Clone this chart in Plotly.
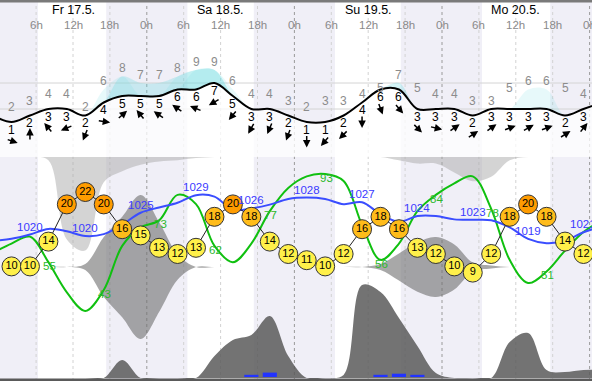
import math
import plotly.graph_objects as go

# ---------------- data ----------------
hours = [-1, 2, 5, 8, 11, 14, 17, 20, 23, 26, 29, 32, 35, 38, 41, 44, 47, 50, 53, 56,
         59, 62, 65, 68, 71, 74, 77, 80, 83, 86, 89, 92, 95, 98]

temp_hours = [2, 5, 8, 11, 14, 17, 20, 23, 26, 29, 32, 35, 38, 41, 44, 47, 50, 53, 56,
              59, 62, 65, 68, 71, 74, 77, 80, 83, 86, 89, 92, 95]
temperature_c = [10, 10, 14, 20, 22, 20, 16, 15, 13, 12, 13, 18, 20, 18, 14, 12, 11, 10, 12,
                 16, 18, 16, 13, 12, 10, 9, 12, 18, 20, 18, 14, 12]

wind_bft = [2, 1, 2, 3, 3, 2, 4, 5, 5, 5, 6, 6, 7, 5, 3, 3, 2, 1, 1, 2, 4, 6,
            6, 3, 3, 3, 2, 3, 3, 3, 3, 2, 3, 4]
gust_bft = [2, 2, 3, 4, 4, 2, 6, 8, 7, 7, 8, 9, 9, 6, 4, 4, 3, 2, 3, 3, 4, 5,
            7, 5, 4, 4, 3, 3, 5, 6, 6, 5, 4, 4]
wind_to_deg = [107, 107, 0, 320, 248, 202, 98, 49, 321, 304, 305, 292, 240, 219, 209, 203,
               200, 180, 221, 225, 180, 160, 139, 135, 103, 55, 57, 54, 70, 61, 70, 58, 38, 40]

pressure_hpa = [1019.0, 1019.4, 1020.3, 1021.5, 1021.0, 1020.0, 1020.4, 1022.4, 1024.9,
                1026.0, 1027.0, 1028.6, 1028.3, 1025.5, 1025.8, 1026.6, 1027.8, 1028.1,
                1027.8, 1026.7, 1027.1, 1024.6, 1023.0, 1024.2, 1024.2, 1023.5, 1023.4,
                1023.3, 1021.8, 1019.4, 1018.5, 1019.0, 1020.8, 1022.0]
humidity_pct = [59, 63, 66, 55, 42, 34, 43, 62, 70, 73, 84, 80, 62, 55, 63, 77, 87, 92,
                93, 90, 71, 56, 63, 77, 84, 89, 92, 78, 56, 46, 51, 60, 68, 73]

cloud_high_pct = [0, 0, 0, 3, 75, 85, 23, 13, 7, 4, 3, 1, 0, 0, 0, 0, 0, 0, 0, 0,
                  0, 0, 3, 6, 6, 14, 22, 18, 3, 0, 0, 0, 0, 0]
cloud_mid_pct = [0, 0, 0, 0, 0, 4, 40, 67, 96, 60, 17, 0, 0, 0, 0, 0, 0, 0, 0, 0,
                 0, 4, 18, 33, 40, 30, 6, 2, 0, 0, 0, 0, 0, 0]
cloud_low_pct = [0, 0, 0, 0, 0, 0, 0, 18, 0, 0, 0, 0, 22, 38, 43, 62, 22, 0, 0, 3,
                 93, 86, 60, 32, 5, 0, 0, 0, 36, 45, 8, 6, 8, 8]
precip_mm = [0, 0, 0, 0, 0, 0, 0, 0, 0, 0, 0, 0, 0, 0, 0.1, 0.2, 0, 0, 0, 0,
             0, 0.1, 0.15, 0.1, 0, 0, 0, 0, 0, 0, 0, 0, 0, 0]

pressure_label_hours = [5, 14, 23, 32, 41, 50, 59, 68, 77, 86, 95]
humidity_label_hours = [8, 17, 26, 35, 44, 53, 62, 71, 80, 89]

day_labels = ["Fr 17.5.", "Sa 18.5.", "Su 19.5.", "Mo 20.5."]
day_noon_hours = [12, 36, 60, 84]
hour_tick_hours = [0, 6, 12, 18, 24, 30, 36, 42, 48, 54, 60, 66, 72, 78, 84, 90, 96]
hour_tick_labels = ["0h", "6h", "12h", "18h", "0h", "6h", "12h", "18h", "0h", "6h",
                    "12h", "18h", "0h", "6h", "12h", "18h", "0h"]
sunrise_hours = [6.3, 30.6, 54.6, 78.5]
sunset_hours = [17.4, 41.4, 65.3, 89.6]

# ---------------- layout helpers ----------------
W, H = 592, 381
FONT = "Liberation Sans, Arial, sans-serif"


def py(px):
    return 1 - px / H


X_RANGE = [0.8 / 6.15, 592.8 / 6.15]
WIND_RANGE = [-4.3846, 15.154]

fig = go.Figure()

# ---- wind panel ----
fig.add_trace(go.Scatter(x=hours, y=[WIND_RANGE[0]] * len(hours), yaxis="y2", mode="lines",
                         line=dict(width=0), hoverinfo="skip", showlegend=False))
fig.add_trace(go.Scatter(x=hours, y=wind_bft, yaxis="y2", mode="lines", fill="tonexty",
                         fillcolor="rgba(255,255,255,0.75)", line=dict(width=0, shape="spline"),
                         hoverinfo="skip", showlegend=False))
for k in [6, 7, 8, 9]:
    top = [g if g >= k else w for w, g in zip(wind_bft, gust_bft)]
    fig.add_trace(go.Scatter(x=hours, y=wind_bft, yaxis="y2", mode="lines",
                             line=dict(width=0, shape="spline"), hoverinfo="skip", showlegend=False))
    fig.add_trace(go.Scatter(x=hours, y=top, yaxis="y2", mode="lines", fill="tonexty",
                             fillcolor="rgba(110,220,228,0.17)", line=dict(width=0, shape="spline"),
                             hoverinfo="skip", showlegend=False))
fig.add_trace(go.Scatter(x=hours, y=wind_bft, yaxis="y2", mode="lines",
                         line=dict(color="black", width=2, shape="spline"),
                         hoverinfo="skip", showlegend=False))

# ---- clouds ----
fig.add_trace(go.Scatter(x=hours, y=cloud_high_pct, yaxis="y", mode="lines", fill="tozeroy",
                         fillcolor="rgba(170,170,170,0.5)", line=dict(width=0, shape="spline"),
                         hoverinfo="skip", showlegend=False))
fig.add_trace(go.Scatter(x=hours, y=[-m for m in cloud_mid_pct], yaxis="y3", mode="lines",
                         line=dict(width=0, shape="spline"), hoverinfo="skip", showlegend=False))
fig.add_trace(go.Scatter(x=hours, y=cloud_mid_pct, yaxis="y3", mode="lines", fill="tonexty",
                         fillcolor="rgba(110,110,110,0.6)", line=dict(width=0, shape="spline"),
                         hoverinfo="skip", showlegend=False))
fig.add_trace(go.Scatter(x=hours, y=cloud_low_pct, yaxis="y4", mode="lines", fill="tozeroy",
                         fillcolor="rgba(90,90,90,0.85)", line=dict(width=0, shape="spline"),
                         hoverinfo="skip", showlegend=False))
fig.add_trace(go.Bar(x=hours, y=precip_mm, yaxis="y5", width=2.3, marker=dict(color="#2233ff", line=dict(width=0)),
                     hoverinfo="skip", showlegend=False))

# ---- humidity, pressure, temperature ----
fig.add_trace(go.Scatter(x=hours, y=humidity_pct, yaxis="y6", mode="lines",
                         line=dict(color="#10c010", width=2, shape="spline"),
                         hoverinfo="skip", showlegend=False))
fig.add_trace(go.Scatter(x=hours, y=pressure_hpa, yaxis="y7", mode="lines",
                         line=dict(color="#3a4dff", width=2, shape="spline"),
                         hoverinfo="skip", showlegend=False))


def temp_color(t):
    if t >= 20:
        return "#ff9c00"
    if t >= 16:
        return "#ffbc1a"
    return "#fff04a"


fig.add_trace(go.Scatter(x=temp_hours, y=temperature_c, yaxis="y8", mode="lines+markers+text",
                         text=[str(t) for t in temperature_c], textposition="middle center",
                         textfont=dict(family=FONT, size=11, color="black"),
                         line=dict(color="#222", width=1),
                         marker=dict(size=19, color=[temp_color(t) for t in temperature_c],
                                     line=dict(color="#333", width=1)),
                         hoverinfo="skip", showlegend=False))

# ---------------- shapes ----------------
shapes = []
nights = [(X_RANGE[0] - 1, sunrise_hours[0])]
for i in range(len(sunset_hours)):
    end = sunrise_hours[i + 1] if i + 1 < len(sunrise_hours) else X_RANGE[1] + 1
    nights.append((sunset_hours[i], end))
for a, b in nights:
    shapes.append(dict(type="rect", xref="x", yref="paper", x0=a, x1=b, y0=0, y1=1,
                       fillcolor="#f0eff7", line=dict(width=0), layer="below"))
for h in hour_tick_hours:
    midnight = h % 24 == 0
    shapes.append(dict(type="line", xref="x", yref="paper", x0=h, x1=h, y0=0, y1=py(3),
                       line=dict(color="#9a9a9a" if midnight else "#d2d2d2", width=1, dash="3px,3px"),
                       layer="below"))
for v in [3, 7]:
    shapes.append(dict(type="line", xref="paper", yref="y2", x0=0, x1=1, y0=v, y1=v,
                       line=dict(color="#d4d4d4", width=1), layer="below"))
shapes.append(dict(type="rect", xref="paper", yref="paper", x0=0, x1=1, y0=py(2.5), y1=1,
                   fillcolor="#7a7a7a", line=dict(width=0)))
shapes.append(dict(type="rect", xref="paper", yref="paper", x0=0, x1=1, y0=py(381), y1=py(378.5),
                   fillcolor="#5a5a5a", line=dict(width=0)))

# ---------------- annotations ----------------
ann = []
for lab, h in zip(day_labels, day_noon_hours):
    ann.append(dict(x=h, y=py(10), xref="x", yref="paper", text=lab, showarrow=False,
                    font=dict(family=FONT, size=12.5, color="black"), xanchor="center", yanchor="middle"))
for lab, h in zip(hour_tick_labels, hour_tick_hours):
    ann.append(dict(x=h, y=py(25), xref="x", yref="paper", text=lab, showarrow=False,
                    font=dict(family=FONT, size=11.5, color="#8a8a8a"), xanchor="center", yanchor="middle"))

L = 13
for h, w, g, d in zip(hours, wind_bft, gust_bft, wind_to_deg):
    if not (X_RANGE[0] <= h <= X_RANGE[1]):
        continue
    ann.append(dict(x=h, y=w, xref="x", yref="y2", text=str(w), showarrow=False, yshift=-8,
                    font=dict(family=FONT, size=12, color="black")))
    ann.append(dict(x=h, y=g, xref="x", yref="y2", text=str(g), showarrow=False, yshift=8,
                    font=dict(family=FONT, size=12, color="#8c8c8c")))
    s, c = math.sin(math.radians(d)), math.cos(math.radians(d))
    ann.append(dict(x=h, y=w, xref="x", yref="y2", text="", showarrow=True, arrowhead=2,
                    arrowsize=1, arrowwidth=1.5, arrowcolor="black", ax=-L * s, ay=L * c,
                    axref="pixel", ayref="pixel", standoff=0, startstandoff=0,
                    xshift=L / 2 * s, yshift=-19 + L / 2 * c))

for h in pressure_label_hours:
    p = pressure_hpa[hours.index(h)]
    ann.append(dict(x=h, y=p, xref="x", yref="y7", text=str(round(p)), showarrow=False, yshift=8,
                    font=dict(family=FONT, size=11.5, color="#3a3aff")))
for h in humidity_label_hours:
    v = humidity_pct[hours.index(h)]
    ann.append(dict(x=h, y=v, xref="x", yref="y6", text=str(v), showarrow=False, yshift=-4, xshift=1,
                    font=dict(family=FONT, size=11.5, color="#2cb82c")))

main_dom = [0, py(157)]
wind_dom = [py(157), py(30)]
hidden = dict(visible=False, showgrid=False, zeroline=False, fixedrange=True)

fig.update_layout(
    width=W, height=H, autosize=False,
    margin=dict(l=0, r=0, t=0, b=0),
    paper_bgcolor="white", plot_bgcolor="rgba(0,0,0,0)",
    showlegend=False, barmode="overlay",
    xaxis=dict(range=X_RANGE, domain=[0, 1], anchor="y", **hidden),
    yaxis=dict(domain=main_dom, range=[224 / 1.1, 0], anchor="x", **hidden),
    yaxis2=dict(domain=wind_dom, range=WIND_RANGE, anchor="x", **hidden),
    yaxis3=dict(overlaying="y", range=[-114 / 0.75, 110 / 0.75], anchor="x", **hidden),
    yaxis4=dict(overlaying="y", range=[-3, 221], anchor="x", **hidden),
    yaxis5=dict(overlaying="y", range=[-4 / 22, 220 / 22], anchor="x", **hidden),
    yaxis6=dict(overlaying="y", range=[93 - 207 / 2.32, 93 + 17 / 2.32], anchor="x", **hidden),
    yaxis7=dict(overlaying="y", range=[1020 - 145 / 4.75, 1020 + 79 / 4.75], anchor="x", **hidden),
    yaxis8=dict(overlaying="y", range=[22 - 189 / 6.2, 22 + 35 / 6.2], anchor="x", **hidden),
    shapes=shapes,
    annotations=ann,
)

fig.write_html("out.html", config={"staticPlot": True},
               post_script="document.body.style.margin='0px';document.body.style.padding='0px';"
                           "document.body.style.overflow='hidden';")
